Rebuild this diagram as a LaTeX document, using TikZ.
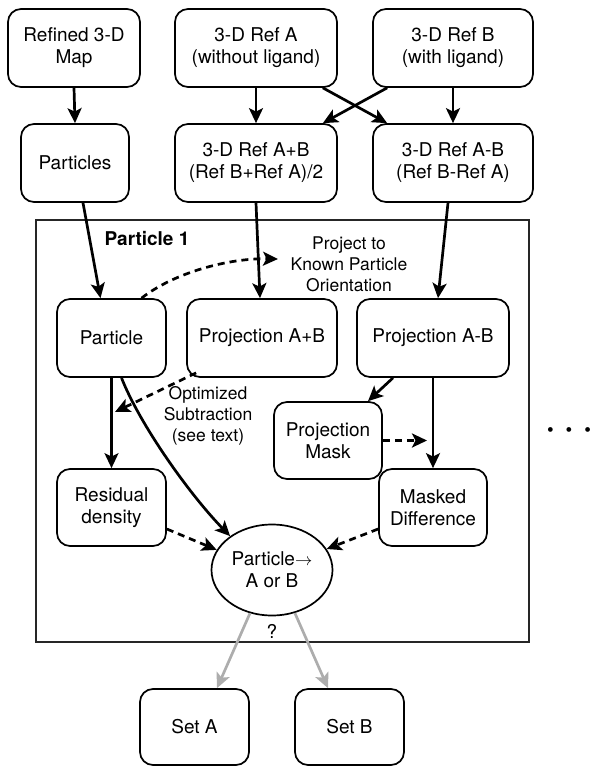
\documentclass[tikz,border=0pt]{standalone}
\usepackage{fontspec}
\setmainfont{TeX Gyre Heros}
\usetikzlibrary{arrows.meta,shapes.geometric}

\newcommand{\boxfont}{\fontsize{19}{22}\selectfont}
\newcommand{\notefont}{\fontsize{17.5}{21}\selectfont}

\tikzset{
  box/.style={draw, line width=1.7pt, rounded corners=13pt, align=center, inner sep=0pt, minimum height=78pt, font=\boxfont},
  link/.style={line width=2.7pt, -{Stealth[length=15pt,width=14pt,inset=3.5pt]}},
  hint/.style={link, dash pattern=on 7pt off 5pt},
  pick/.style={link, color=black!32},
}

\begin{document}
\begin{tikzpicture}[x=1pt,y=-1pt]
\useasboundingbox (0,0) rectangle (602,776);

\draw[line width=1.5pt, black!85] (36,220) rectangle (529,642);

\node[box, minimum width=132pt] (map) at (74,48) {Refined 3-D\\Map};
\node[box, minimum width=162pt] (refA) at (256,48) {3-D Ref A\\(without ligand)};
\node[box, minimum width=160pt] (refB) at (453,48) {3-D Ref B\\(with ligand)};
\node[box, minimum width=108pt] (parts) at (75,163) {Particles};
\node[box, minimum width=162pt] (refAB) at (256,163) {3-D Ref A+B\\(Ref B+Ref A)/2};
\node[box, minimum width=160pt] (refAmB) at (453,163) {3-D Ref A-B\\(Ref B-Ref A)};

\node[font=\boxfont\bfseries] (title) at (147,239) {Particle 1};
\node[font=\notefont, align=center] (projnote) at (349,264) {Project to\\Known Particle\\Orientation};

\node[box, minimum width=109pt] (part) at (111.5,338) {Particle};
\node[box, minimum width=150pt] (projAB) at (262,338) {Projection A+B};
\node[box, minimum width=152pt] (projAmB) at (433,338) {Projection A-B};

\node[font=\notefont, align=center] (subnote) at (208,416) {Optimized\\Subtraction\\(see text)};
\node[box, minimum width=108pt, minimum height=77pt] (mask) at (328,440.5) {Projection\\Mask};

\node[box, minimum width=109pt, minimum height=77pt] (resid) at (111.5,507.5) {Residual\\density};
\node[box, minimum width=108pt, minimum height=77pt] (maskd) at (433,507.5) {Masked\\Difference};
\node[draw, ellipse, line width=1.7pt, minimum width=121pt, minimum height=91pt, inner sep=0pt, font=\boxfont, align=center] (decide) at (272,570) {Particle{\fontsize{18}{18}\selectfont$\rightarrow$}\\A or B};

\node[font=\boxfont] (qmark) at (272,631) {?};
\node[box, minimum width=109pt, minimum height=76pt] (setA) at (194.5,727) {Set A};
\node[box, minimum width=109pt, minimum height=76pt] (setB) at (349.5,727) {Set B};

\node[font=\boxfont] (more) at (569,432) {\textbullet\hspace{12pt}\textbullet\hspace{12pt}\textbullet};

\coordinate (projtip) at (278,259);
\coordinate (subhit) at (115,412);
\coordinate (maskhit) at (427,440.5);

\draw[link] (map.south) -- (parts.north);
\draw[link] (refA.south) -- (refAB.north);
\draw[link] (refB.south) -- (refAmB.north);
\draw[link] ([xshift=-15pt]refA.south east) -- ([xshift=15pt]refAmB.north west);
\draw[link] ([xshift=15pt]refB.south west) -- ([xshift=-15pt]refAB.north east);

\draw[link] ([xshift=8pt]parts.south) -- ([xshift=-11pt]part.north);
\draw[link] (refAB.south) -- ([xshift=-2pt]projAB.north);
\draw[link] ([xshift=-5pt]refAmB.south) -- ([xshift=5pt]projAmB.north);
\draw[hint] ([xshift=30pt]part.north) .. controls (175,272) and (230,258) .. (projtip);

\draw[link] (part.south) -- (resid.north);
\draw[hint] ([xshift=10pt,yshift=5pt]projAB.south west) -- (subhit);
\draw[link] ([xshift=10pt]part.south) .. controls (140,425) and (190,495) .. (decide.141);

\draw[link] ([xshift=-40pt]projAmB.south) -- ([xshift=40pt]mask.north);
\draw[link] (projAmB.south) -- (maskd.north);
\draw[hint] (mask.east) -- (maskhit);

\draw[hint] ([yshift=-21.5pt]resid.east) -- (decide.160);
\draw[hint] ([yshift=-21.5pt]maskd.west) -- (decide.21);

\draw[pick] (decide.243) -- ([xshift=22.5pt]setA.north);
\draw[pick] (decide.298) -- ([xshift=-21.5pt]setB.north);

\end{tikzpicture}
\end{document}
